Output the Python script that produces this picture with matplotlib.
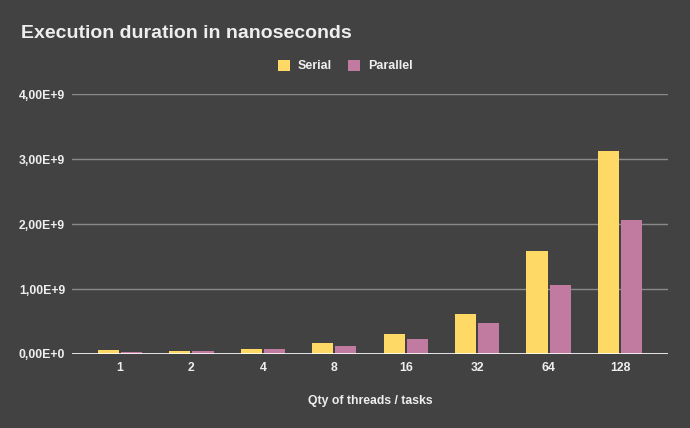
import matplotlib
matplotlib.use("Agg")
import matplotlib.pyplot as plt
import numpy as np
from matplotlib.ticker import FuncFormatter

categories = ["1", "2", "4", "8", "16", "32", "64", "128"]
serial = [0.06e9, 0.045e9, 0.075e9, 0.17e9, 0.307e9, 0.615e9, 1.58e9, 3.118e9]
parallel = [0.03e9, 0.045e9, 0.075e9, 0.12e9, 0.226e9, 0.477e9, 1.057e9, 2.057e9]
yticks = [0, 1e9, 2e9, 3e9, 4e9]

BG = "#424242"
plt.rcParams['font.family'] = ['Liberation Sans', 'DejaVu Sans']

fig = plt.figure(figsize=(6.9, 4.28), dpi=100, facecolor=BG)
ax = fig.add_axes([72/690, 74/428, 596/690, 260/428], facecolor=BG)

x = np.arange(len(categories))
w = 0.295
gap = 0.014
ax.bar(x - w/2 - gap, serial, width=w, color="#FFD966", label="Serial", zorder=3)
ax.bar(x + w/2 + gap, parallel, width=w, color="#C27BA0", label="Parallel", zorder=3)

ax.set_xlim(-0.673, 7.673)
ax.set_ylim(0, 4e9)
ax.set_yticks(yticks)
ax.yaxis.set_major_formatter(FuncFormatter(
    lambda v, p: ("%.2fE+%d" % (v / 10**int(np.log10(v)), int(np.log10(v)))).replace('.', ',') if v > 0 else "0,00E+0"))
ax.set_xticks(x)
ax.set_xticklabels(categories)

ax.grid(axis='y', color="#8a8a8a", linewidth=1, zorder=0)
ax.axhline(0, color="white", linewidth=1.2, zorder=4)
for s in ax.spines.values():
    s.set_visible(False)
ax.tick_params(axis='both', length=0, colors="#eeeeee", labelsize=8.8)
ax.tick_params(axis='y', pad=5)
ax.tick_params(axis='x', pad=6)
for lab in ax.get_xticklabels() + ax.get_yticklabels():
    lab.set_fontweight('bold')

ax.set_xlabel("Qty of threads / tasks", color="#eeeeee", fontsize=8.8, fontweight='bold', labelpad=15)

fig.text(21/690, 1 - 33/428, "Execution duration in nanoseconds", color="#eeeeee",
         fontsize=14, fontweight='bold', va='center', ha='left')

leg = fig.legend(loc='center', bbox_to_anchor=(345/690, 1 - 66/428), ncol=2, frameon=False,
                 handlelength=1.0, handleheight=1.0, handletextpad=0.6, columnspacing=1.3,
                 prop={'weight': 'bold', 'size': 9})
for t in leg.get_texts():
    t.set_color("#eeeeee")

fig.savefig("out.png", dpi=100, facecolor=BG)
